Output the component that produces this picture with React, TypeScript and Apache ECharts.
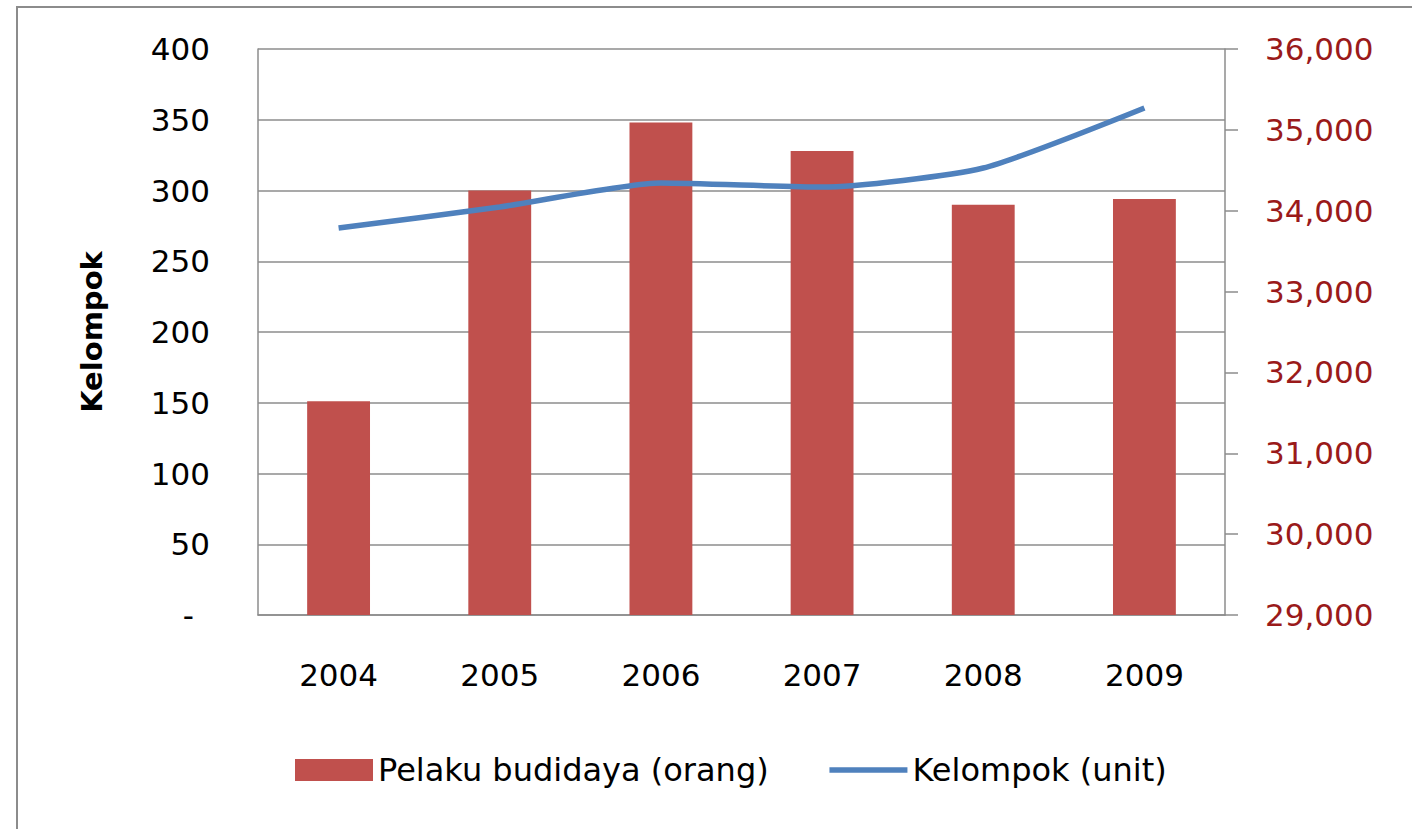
import React, { useEffect, useRef } from "react";
import * as echarts from "echarts";

const years = ["2004", "2005", "2006", "2007", "2008", "2009"];
const pelakuValues = [151, 300, 348, 328, 290, 294];
const kelompokValues = [33786, 34046, 34343, 34293, 34528, 35270];
const seriesNames = ["Pelaku budidaya (orang)", "Kelompok (unit)"];
const leftAxisTitle = "Kelompok";

export default function App() {
  const ref = useRef<HTMLDivElement>(null);
  useEffect(() => {
    if (!ref.current) return;
    const chart = echarts.init(ref.current, null, { renderer: "svg" });
    const font = "DejaVu Sans";
    chart.setOption({
      animation: false,
      backgroundColor: "#ffffff",
      textStyle: { fontFamily: font },
      graphic: [
        {
          type: "rect",
          shape: { x: 17, y: 7, width: 1420, height: 900 },
          style: { fill: "none", stroke: "#8c8c8c", lineWidth: 2 },
          silent: true,
        },
      ],
      grid: { left: 258, right: 187, top: 49, bottom: 214, containLabel: false },
      legend: {
        bottom: 38,
        left: 290,
        itemGap: 58,
        itemWidth: 78,
        itemHeight: 22,
        textStyle: { fontFamily: font, fontSize: 32, color: "#000" },
        data: [
          { name: seriesNames[0], icon: "rect" },
          { name: seriesNames[1], itemStyle: { opacity: 0 }, lineStyle: { width: 5.5, color: "#4f81bd" } },
        ],
      },
      xAxis: {
        type: "category",
        data: years,
        axisLine: { show: true, lineStyle: { color: "#8c8c8c", width: 1.5 } },
        axisTick: { show: false },
        axisLabel: { color: "#000", fontSize: 31, fontFamily: font, margin: 44 },
      },
      yAxis: [
        {
          type: "value",
          min: 0,
          max: 400,
          interval: 50,
          name: leftAxisTitle,
          nameLocation: "middle",
          nameRotate: 90,
          nameGap: 152,
          nameTextStyle: { fontFamily: font, fontSize: 29, fontWeight: "bold", color: "#000" },
          axisLine: { show: true, lineStyle: { color: "#8c8c8c", width: 1.5 } },
          axisTick: { show: false },
          splitLine: { show: true, lineStyle: { color: "#8c8c8c", width: 1.5 } },
          axisLabel: {
            color: "#000",
            fontSize: 31,
            fontFamily: font,
            margin: 48,
            formatter: (v: number) => (v === 0 ? "{d|-}" : String(v)),
            rich: { d: { fontSize: 31, fontFamily: font, color: "#000", padding: [0, 16, 0, 0] } },
          },
        },
        {
          type: "value",
          min: 29000,
          max: 36000,
          interval: 1000,
          position: "right",
          axisLine: { show: true, lineStyle: { color: "#8c8c8c", width: 1.5 } },
          axisTick: { show: true, inside: false, length: 13, lineStyle: { color: "#8c8c8c", width: 1.5 } },
          splitLine: { show: false },
          axisLabel: {
            color: "#9a1a1a",
            fontSize: 31,
            fontFamily: font,
            margin: 40,
            formatter: (v: number) => v.toLocaleString("en-US"),
          },
        },
      ],
      series: [
        {
          name: seriesNames[0],
          type: "bar",
          yAxisIndex: 0,
          data: pelakuValues,
          barWidth: "39%",
          itemStyle: { color: "#c0504d" },
        },
        {
          name: seriesNames[1],
          type: "line",
          yAxisIndex: 1,
          data: kelompokValues,
          smooth: 0.2,
          symbol: "none",
          lineStyle: { color: "#4f81bd", width: 5.5 },
          itemStyle: { color: "#4f81bd" },
        },
      ],
    });
    return () => chart.dispose();
  }, []);
  return (
    <div
      ref={ref}
      style={{ position: "fixed", left: 0, top: 0, width: 1412, height: 829 }}
    />
  );
}
